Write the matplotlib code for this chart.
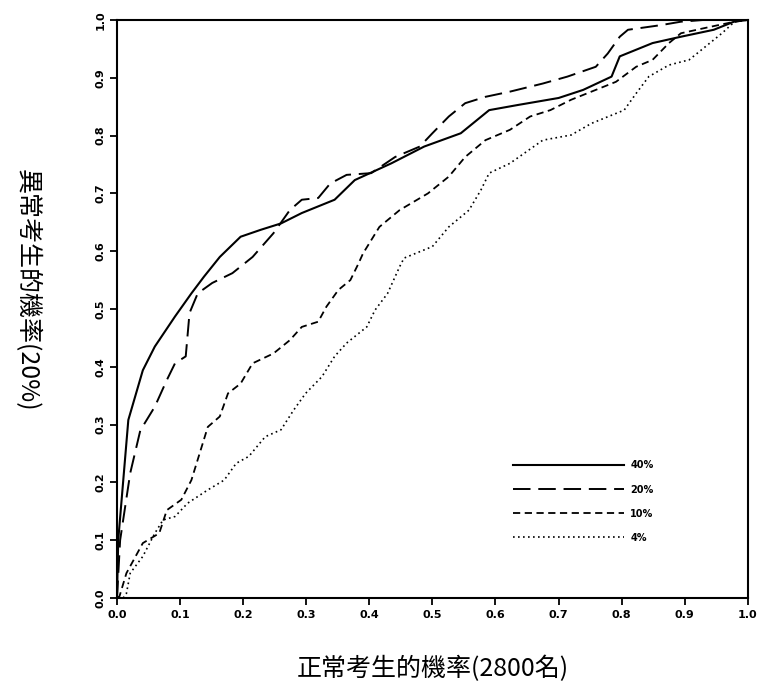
# ROC-Kurven: Anteil erkannter abnormer Prüflinge vs. Anteil normaler Prüflinge

import matplotlib
matplotlib.use('Agg')
import matplotlib.pyplot as plt

# Kurvenwerte
fpr_40 = [0.0, 0.002, 0.018, 0.041, 0.060, 0.092, 0.118, 0.138, 0.163, 0.196,
          0.228, 0.26, 0.293, 0.345, 0.377, 0.435, 0.487, 0.545, 0.59, 0.636,
          0.70, 0.739, 0.784, 0.797, 0.849, 0.894, 0.946, 0.978, 1.0]
tpr_40 = [0.0, 0.10, 0.308, 0.394, 0.435, 0.487, 0.527, 0.556, 0.59, 0.625,
          0.637, 0.648, 0.666, 0.689, 0.723, 0.752, 0.781, 0.804, 0.844, 0.853,
          0.865, 0.879, 0.902, 0.937, 0.96, 0.971, 0.983, 0.997, 1.0]

fpr_20 = [0.0, 0.005, 0.021, 0.037, 0.06, 0.079, 0.092, 0.109, 0.115, 0.128,
          0.151, 0.183, 0.215, 0.248, 0.274, 0.293, 0.319, 0.338, 0.364, 0.403,
          0.441, 0.48, 0.50, 0.526, 0.552, 0.584, 0.623, 0.675, 0.714, 0.759,
          0.778, 0.797, 0.81, 0.862, 0.894, 0.93, 1.0]
tpr_20 = [0.0, 0.10, 0.216, 0.29, 0.331, 0.377, 0.406, 0.418, 0.493, 0.527,
          0.545, 0.562, 0.59, 0.631, 0.671, 0.689, 0.692, 0.717, 0.732, 0.735,
          0.763, 0.781, 0.804, 0.833, 0.856, 0.867, 0.876, 0.89, 0.902, 0.919,
          0.942, 0.971, 0.983, 0.991, 0.997, 1.0, 1.0]

fpr_10 = [0.0, 0.004, 0.015, 0.041, 0.067, 0.079, 0.102, 0.118, 0.131, 0.144,
          0.163, 0.176, 0.196, 0.215, 0.248, 0.274, 0.293, 0.319, 0.332, 0.351,
          0.37, 0.383, 0.39, 0.416, 0.448, 0.493, 0.526, 0.552, 0.584, 0.623,
          0.655, 0.687, 0.72, 0.759, 0.791, 0.823, 0.849, 0.875, 0.894, 0.94,
          0.979, 1.0]
tpr_10 = [0.0, 0.003, 0.043, 0.095, 0.112, 0.152, 0.17, 0.204, 0.25, 0.296,
          0.314, 0.354, 0.371, 0.406, 0.423, 0.446, 0.469, 0.478, 0.504, 0.533,
          0.55, 0.579, 0.596, 0.642, 0.671, 0.70, 0.729, 0.763, 0.792, 0.81,
          0.833, 0.844, 0.862, 0.879, 0.893, 0.919, 0.931, 0.96, 0.977, 0.988,
          0.997, 1.0]

fpr_4 = [0.01, 0.015, 0.021, 0.041, 0.06, 0.073, 0.092, 0.112, 0.144, 0.17,
         0.189, 0.209, 0.235, 0.26, 0.28, 0.299, 0.325, 0.345, 0.364, 0.396,
         0.409, 0.429, 0.448, 0.455, 0.50, 0.526, 0.558, 0.577, 0.59, 0.623,
         0.675, 0.72, 0.752, 0.804, 0.823, 0.843, 0.875, 0.907, 0.933, 0.959,
         0.979, 1.0]
tpr_4 = [0.0, 0.008, 0.043, 0.072, 0.112, 0.135, 0.141, 0.164, 0.187, 0.204,
         0.233, 0.245, 0.279, 0.291, 0.325, 0.354, 0.383, 0.418, 0.441, 0.469,
         0.498, 0.527, 0.573, 0.588, 0.608, 0.642, 0.671, 0.706, 0.735, 0.752,
         0.792, 0.801, 0.821, 0.844, 0.873, 0.902, 0.922, 0.931, 0.954, 0.977,
         0.997, 1.0]

labels = ['40%', '20%', '10%', '4%']
ticks = [0.0, 0.1, 0.2, 0.3, 0.4, 0.5, 0.6, 0.7, 0.8, 0.9, 1.0]
tick_labels = ['0.0', '0.1', '0.2', '0.3', '0.4', '0.5', '0.6', '0.7', '0.8', '0.9', '1.0']

cjk = ['Noto Sans CJK TC', 'DejaVu Sans']

# Plot erstellen
fig = plt.figure(figsize=(7.67, 6.88), dpi=100)
ax = fig.add_axes([0.1525, 0.1308, 0.8225, 0.8402])

ax.plot(fpr_40, tpr_40, color='black', linewidth=1.5, linestyle='-', label=labels[0])
ax.plot(fpr_20, tpr_20, color='black', linewidth=1.4, linestyle=(0, (9, 4)), label=labels[1])
ax.plot(fpr_10, tpr_10, color='black', linewidth=1.3, linestyle=(0, (4, 2.5)), label=labels[2])
ax.plot(fpr_4, tpr_4, color='black', linewidth=1.2, linestyle=(0, (1, 2)), label=labels[3])

ax.set_xlim(0, 1)
ax.set_ylim(0, 1)

# Achsen und Ticks
ax.set_xticks(ticks)
ax.set_xticklabels(tick_labels, fontsize=8, fontweight='bold', family='DejaVu Sans')
ax.set_yticks(ticks)
ax.set_yticklabels(tick_labels, fontsize=8, fontweight='bold', family='DejaVu Sans',
                   rotation=90, va='center')
ax.tick_params(direction='out', length=5, width=1.3, colors='black')
ax.tick_params(axis='y', pad=3)
for spine in ax.spines.values():
    spine.set_linewidth(1.5)

# Achsenbeschriftungen
ax.set_xlabel('正常考生的機率(2800名)', fontsize=18, family=cjk)
ax.xaxis.set_label_coords(0.5, -0.1)
ax.set_ylabel('異常考生的機率(20%)', fontsize=18, family=cjk, rotation=270, va='center')
ax.yaxis.set_label_coords(-0.143, 0.533)

# Legende ohne Rahmen
ax.legend(loc='upper left', bbox_to_anchor=(0.627, 0.238), frameon=False,
          prop={'weight': 'bold', 'size': 7}, handlelength=11.5,
          handletextpad=0.6, labelspacing=1.45, borderpad=0, borderaxespad=0)

fig.savefig('out.png', dpi=100)
